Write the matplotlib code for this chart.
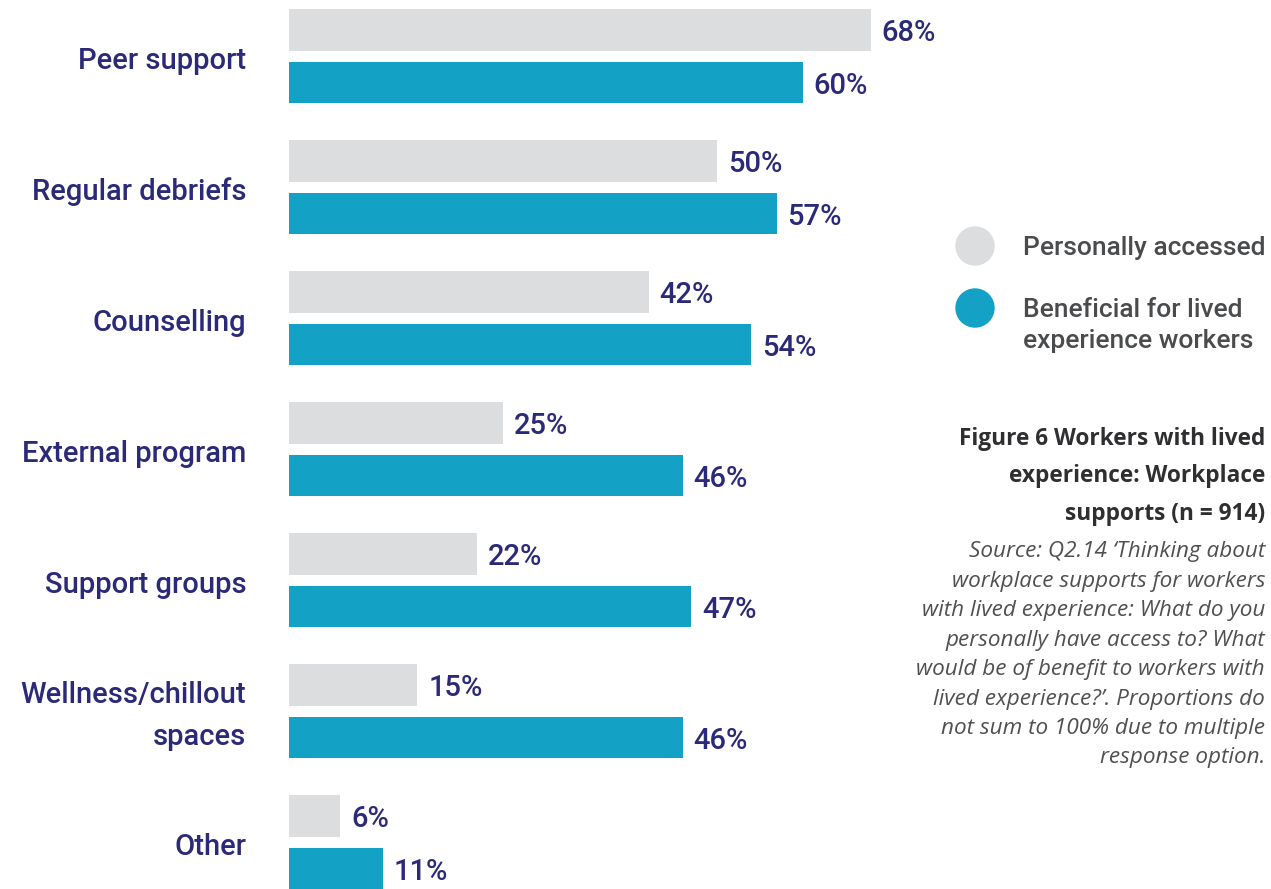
import numpy as np
import matplotlib.pyplot as plt
from matplotlib.patches import Ellipse

# survey results (%)
categories = ['Peer support', 'Regular debriefs', 'Counselling', 'External program',
              'Support groups', 'Wellness/chillout\nspaces', 'Other']
accessed   = [68, 50, 42, 25, 22, 15, 6]
beneficial = [60, 57, 54, 46, 47, 46, 11]

series_names = ['Personally accessed', 'Beneficial for lived\nexperience workers']

title_lines = ['Figure 6 Workers with lived', 'experience: Workplace', 'supports (n = 914)']
source_lines = ['Source: Q2.14 \u2018Thinking about',
                'workplace supports for workers',
                'with lived experience: What do you',
                'personally have access to? What',
                'would be of benefit to workers with',
                'lived experience?\u2019. Proportions do',
                'not sum to 100% due to multiple',
                'response option.']

GREY = '#dcdddf'
TEAL = '#13a1c6'
NAVY = '#2b2a78'
DARK = '#4a4b4d'

W, H = 1271, 889
PX = 1 / 131  # one pixel in y units (group pitch is 131 px)
fig = plt.figure(figsize=(W / 100, H / 100), dpi=100)

# axes: starts where bars start, 8.56 px per percent
ax = fig.add_axes([289 / W, 0, 856 / W, 1])
ax.set_xlim(0, 100)
ax.set_ylim(H / 131 - 0.43, -0.43)
ax.axis('off')

pos = np.arange(len(categories))
bh = 0.32
ax.barh(pos - 0.2, accessed, height=bh, color=GREY)
ax.barh(pos + 0.2, beneficial, height=bh, color=TEAL)

lab_font = dict(family='Roboto', fontsize=21, fontweight='medium', color=NAVY)
for i, (a, b) in enumerate(zip(accessed, beneficial)):
    ax.text(a + 1.25, i - 0.2 + 11 * PX, f'{a}%', va='baseline', ha='left', **lab_font)
    ax.text(b + 1.25, i + 0.2 + 11 * PX, f'{b}%', va='baseline', ha='left', **lab_font)
    lines = categories[i].split('\n')
    n = len(lines)
    for k, line in enumerate(lines):
        off = (k - (n - 1) / 2) * 42 + 13
        ax.text(-5.0, i + off * PX, line, va='baseline', ha='right', **lab_font)

# legend
for col, yy in [(GREY, 246), (TEAL, 308)]:
    fig.patches.append(Ellipse((975 / W, 1 - yy / H), 38 / W, 38 / H,
                               transform=fig.transFigure, color=col))
leg_lines = [(246, series_names[0])] + \
    [(308 + 31 * k, s) for k, s in enumerate(series_names[1].split('\n'))]
for yy, s in leg_lines:
    fig.text(1023 / W, 1 - (yy + 9) / H, s, va='baseline', ha='left',
             family='Roboto', fontsize=19, fontweight='medium', color=DARK)

# caption
for j, line in enumerate(title_lines):
    fig.text(1265 / W, 1 - (439 + 37.5 * j) / H, line, ha='right', va='center',
             family='Open Sans', fontsize=16.3, fontweight='bold', color='#2f2f31')
for j, line in enumerate(source_lines):
    fig.text(1265 / W, 1 - (552 + 29.4 * j) / H, line, ha='right', va='center',
             family='Open Sans', fontsize=16.2, style='italic', color='#505052')

fig.savefig('out.png', dpi=100)
